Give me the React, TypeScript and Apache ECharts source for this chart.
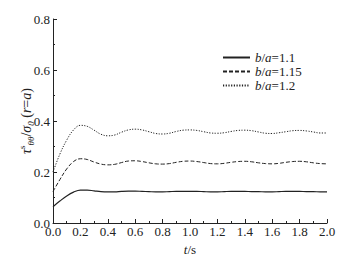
import React, { useEffect, useRef } from "react";
import * as echarts from "echarts";

const tValues = [
  0, 0.05, 0.1, 0.15, 0.2, 0.25, 0.3, 0.35, 0.4, 0.45, 0.5, 0.55, 0.6, 0.65, 0.7, 0.75, 0.8, 0.85, 0.9, 0.95,
  1.0, 1.05, 1.1, 1.15, 1.2, 1.25, 1.3, 1.35, 1.4, 1.45, 1.5, 1.55, 1.6, 1.65, 1.7, 1.75, 1.8, 1.85, 1.9, 1.95, 2.0,
];
const ba11 = [
  0.064, 0.086, 0.106, 0.121, 0.129, 0.129, 0.126, 0.123, 0.122, 0.122, 0.124, 0.125, 0.125, 0.124, 0.123, 0.122,
  0.122, 0.123, 0.124, 0.124, 0.124, 0.124, 0.123, 0.122, 0.122, 0.123, 0.124, 0.124, 0.124, 0.123, 0.123, 0.122,
  0.122, 0.123, 0.124, 0.124, 0.124, 0.123, 0.123, 0.122, 0.122,
];
const ba115 = [
  0.123, 0.17, 0.212, 0.241, 0.252, 0.249, 0.239, 0.231, 0.228, 0.23, 0.237, 0.243, 0.244, 0.241, 0.236, 0.232,
  0.231, 0.233, 0.238, 0.242, 0.243, 0.241, 0.237, 0.233, 0.232, 0.234, 0.238, 0.241, 0.242, 0.24, 0.236, 0.233,
  0.232, 0.234, 0.238, 0.241, 0.242, 0.24, 0.236, 0.233, 0.232,
];
const ba12 = [
  0.2, 0.27, 0.325, 0.365, 0.383, 0.379, 0.364, 0.348, 0.342, 0.345, 0.356, 0.365, 0.368, 0.365, 0.358, 0.351,
  0.349, 0.352, 0.359, 0.364, 0.365, 0.363, 0.358, 0.353, 0.352, 0.354, 0.359, 0.363, 0.364, 0.362, 0.357, 0.352,
  0.351, 0.354, 0.358, 0.362, 0.363, 0.361, 0.357, 0.353, 0.353,
];
const seriesNames = ["b/a=1.1", "b/a=1.15", "b/a=1.2"];

const FONT = "'Liberation Serif', 'Times New Roman', serif";
const INK = "#222";
const FS = 13;

export default function App() {
  const ref = useRef<HTMLDivElement>(null);
  useEffect(() => {
    if (!ref.current) return;
    const chart = echarts.init(ref.current, undefined, { renderer: "svg" });
    const mk = (vals: number[]) => tValues.map((t, i) => [t, vals[i]]);
    const lineTypes: any[] = ["solid", [4, 2], [1.2, 1.5]];
    const datas = [ba11, ba115, ba12];
    chart.setOption({
      animation: false,
      textStyle: { fontFamily: FONT },
      grid: { left: 53, right: 20, top: 19, bottom: 33, outerBoundsMode: "none" },
      legend: {
        orient: "vertical",
        left: 217,
        top: 46,
        itemWidth: 27,
        itemHeight: 10,
        itemGap: 1,
        data: seriesNames,
        itemStyle: { opacity: 0 },
        formatter: (name: string) => {
          const v = name.split("=")[1];
          return `{i|b}{n|/}{i|a}{n|=${v}}`;
        },
        textStyle: {
          fontFamily: FONT,
          fontSize: FS,
          color: INK,
          rich: {
            i: { fontFamily: FONT, fontSize: FS, fontStyle: "italic", color: INK },
            n: { fontFamily: FONT, fontSize: FS, color: INK },
          },
        },
      },
      xAxis: {
        type: "value",
        min: 0,
        max: 2,
        interval: 0.2,
        name: "{i|t}{n|/s}",
        nameLocation: "middle",
        nameGap: 20,
        nameMoveOverlap: false,
        nameTextStyle: {
          fontFamily: FONT,
          rich: {
            i: { fontFamily: FONT, fontSize: FS, fontStyle: "italic", color: INK },
            n: { fontFamily: FONT, fontSize: FS, color: INK },
          },
        },
        axisLine: { lineStyle: { color: INK, width: 1 } },
        axisTick: { inside: true, length: 4, lineStyle: { color: INK } },
        minorTick: { show: true, splitNumber: 2, length: 2, lineStyle: { color: INK } },
        splitLine: { show: false },
        axisLabel: {
          fontFamily: FONT,
          fontSize: FS,
          color: INK,
          margin: 2,
          formatter: (v: number) => v.toFixed(1),
        },
      },
      yAxis: {
        type: "value",
        min: 0,
        max: 0.8,
        interval: 0.2,
        name: "{i|τ}{sup|s}{sub|θθ}{n|/}{i|σ}{sub|0}{n| (}{i|r}{n|=}{i|a}{n|)}",
        nameLocation: "middle",
        nameRotate: 90,
        nameGap: 18,
        nameMoveOverlap: false,
        nameTextStyle: {
          fontFamily: FONT,
          rich: {
            i: { fontFamily: FONT, fontSize: 14, fontStyle: "italic", color: INK, lineHeight: 18, verticalAlign: "middle" },
            n: { fontFamily: FONT, fontSize: 14, color: INK, lineHeight: 18, verticalAlign: "middle" },
            sup: { fontFamily: FONT, fontSize: 9, color: INK, verticalAlign: "top", lineHeight: 18 },
            sub: { fontFamily: FONT, fontSize: 9, fontStyle: "italic", color: INK, verticalAlign: "bottom", lineHeight: 14 },
          },
        },
        axisLine: { show: true, lineStyle: { color: INK, width: 1 } },
        axisTick: { inside: true, length: 4, lineStyle: { color: INK } },
        minorTick: { show: true, splitNumber: 2, length: 2, lineStyle: { color: INK } },
        splitLine: { show: false },
        axisLabel: {
          fontFamily: FONT,
          fontSize: FS,
          color: INK,
          margin: 3,
          formatter: (v: number) => v.toFixed(1),
        },
      },
      series: datas.map((d, i) => ({
        name: seriesNames[i],
        type: "line",
        data: mk(d),
        smooth: 0.4,
        symbol: "none",
        lineStyle: { color: INK, width: i === 0 ? 1.2 : 1, type: lineTypes[i] },
        itemStyle: { color: INK },
      })),
    });
    return () => chart.dispose();
  }, []);
  return <div ref={ref} style={{ width: 347, height: 256, position: "absolute", left: 0, top: 0, background: "#fff" }} />;
}
